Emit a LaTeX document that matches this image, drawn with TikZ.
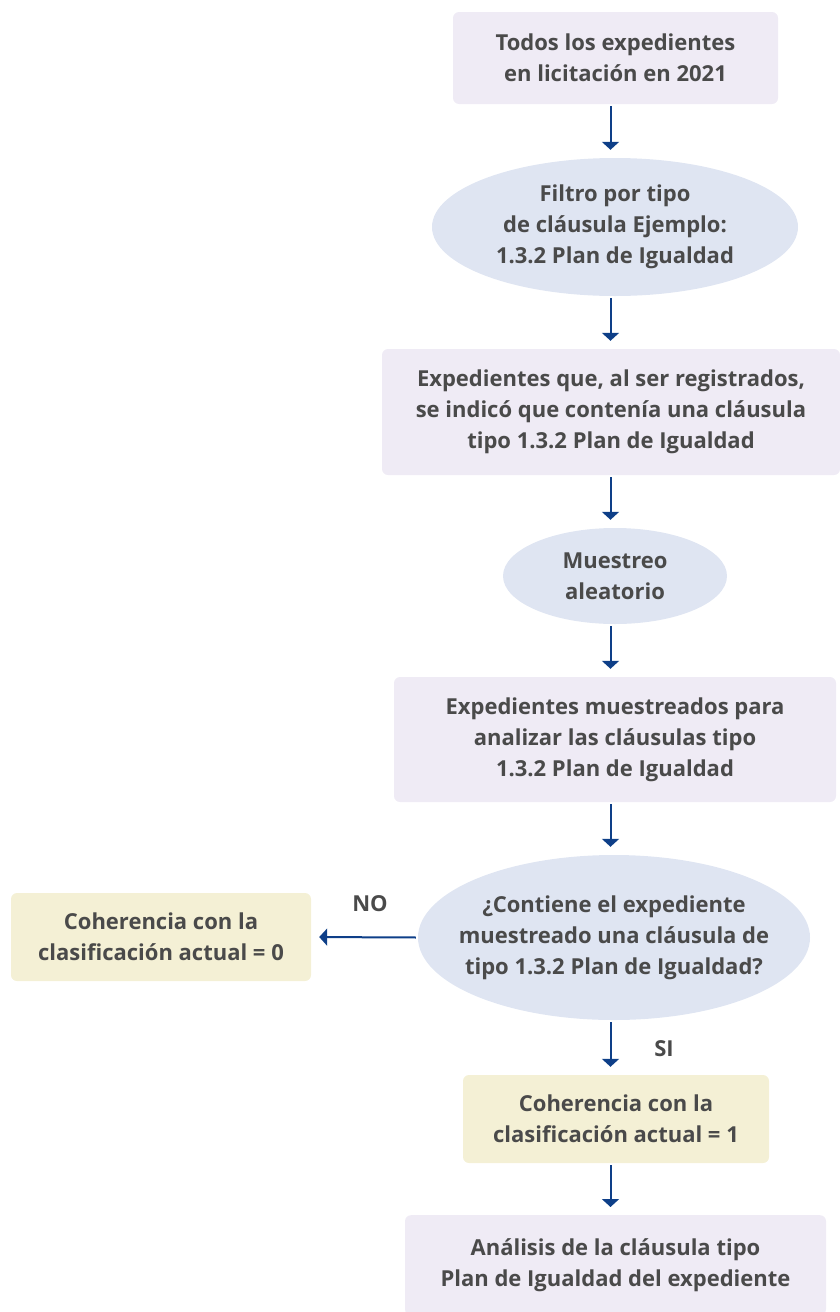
\documentclass[tikz,border=0pt]{standalone}
\usepackage{fontspec}
\setmainfont{Open Sans}
\usetikzlibrary{shapes.geometric,arrows.meta}
\definecolor{txt}{HTML}{4A4A4A}
\definecolor{boxp}{HTML}{EFEBF5}
\definecolor{ellb}{HTML}{DFE5F2}
\definecolor{boxy}{HTML}{F4F0D5}
\definecolor{arr}{HTML}{0E3F88}
\tikzset{
  x=1pt,y=-1pt,
  lbl/.style={font=\fontsize{22}{31}\selectfont\bfseries, text=txt, align=center, inner sep=0pt},
  pbox/.style={lbl, fill=boxp, rounded corners=6pt},
  ybox/.style={lbl, fill=boxy, rounded corners=6pt},
  oval/.style={ellipse, fill=ellb, inner sep=0pt},
  flow/.style={draw=arr, line width=2pt, -{Triangle[width=17pt,length=8pt]}, shorten <=2pt, shorten >=8pt},
}
\begin{document}
\begin{tikzpicture}
\useasboundingbox (0,0) rectangle (840,1312);
\coordinate (ax) at (610.5,0);
\node[pbox, minimum width=325pt, minimum height=92pt] (b1) at (615.5,58) {Todos los expedientes\\en licitación en 2021};
\node[oval, minimum width=366pt, minimum height=138pt, label={[lbl]center:{Filtro por tipo\\de cláusula Ejemplo:\\1.3.2 Plan de Igualdad}}] (e1) at (615,227) {};
\node[pbox, minimum width=458pt, minimum height=126pt] (b2) at (611,412) {Expedientes que, al ser registrados,\\se indicó que contenía una cláusula\\tipo 1.3.2 Plan de Igualdad};
\node[oval, minimum width=224pt, minimum height=96pt, label={[lbl]center:{Muestreo\\aleatorio}}] (e2) at (615,576) {};
\node[pbox, minimum width=442pt, minimum height=125pt] (b3) at (615,739.5) {Expedientes muestreados para\\analizar las cláusulas tipo\\1.3.2 Plan de Igualdad};
\node[oval, minimum width=392pt, minimum height=165pt, label={[lbl]center:{¿Contiene el expediente\\muestreado una cláusula de\\tipo 1.3.2 Plan de Igualdad?}}] (e3) at (614,937.5) {};
\node[ybox, minimum width=300pt, minimum height=88pt] (no) at (161,937) {Coherencia con la\\clasificación actual = 0};
\node[ybox, minimum width=306pt, minimum height=88pt] (si) at (616,1119) {Coherencia con la\\clasificación actual = 1};
\node[pbox, minimum width=421pt, minimum height=100pt, anchor=north, label={[lbl]center:{Análisis de la cláusula tipo\\Plan de Igualdad del expediente}}] (b4) at (615.5,1215) {};
\node[lbl] (nol) at (370,904) {NO};
\node[lbl] (sil) at (664,1049) {SI};
\draw[flow] (b1.south -| ax) -- (e1.north -| ax);
\draw[flow] (e1.south -| ax) -- (b2.north -| ax);
\draw[flow] (b2.south -| ax) -- (e2.north -| ax);
\draw[flow] (e2.south -| ax) -- (b3.north -| ax);
\draw[flow] (b3.south -| ax) -- (e3.north -| ax);
\draw[flow] (e3.south -| ax) -- (si.north -| ax);
\draw[flow] (si.south -| ax) -- (b4.north -| ax);
\draw[flow] (e3.west) -- (no.east);
\end{tikzpicture}
\end{document}
